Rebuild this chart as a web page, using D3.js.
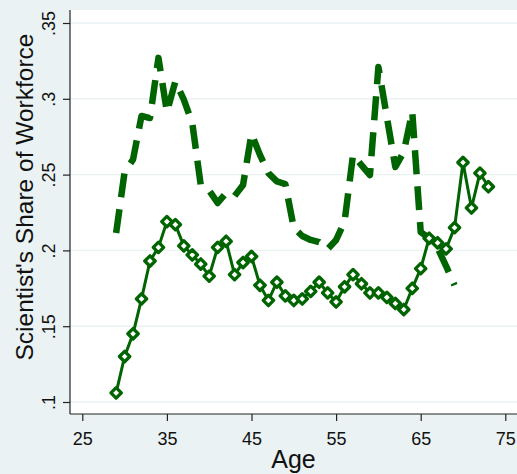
<!DOCTYPE html>
<meta charset="utf-8">
<script src="https://d3js.org/d3.v7.min.js"></script>
<style>
body { margin: 0; background: #eaf2f3; }
text { font-family: "Liberation Sans", Arial, sans-serif; fill: #111; }
</style>
<div id="my_dataviz"></div>
<script>

// data
var solidAge = [29,30,31,32,33,34,35,36,37,38,39,40,41,42,43,44,45,46,47,48,49,50,51,52,53,54,55,56,57,58,59,60,61,62,63,64,65,66,67,68,69,70,71,72,73];
var solidShare = [.106,.130,.145,.168,.193,.202,.219,.217,.203,.197,.191,.183,.202,.206,.184,.192,.196,.177,.167,.179,.170,.167,.168,.173,.179,.172,.166,.176,.184,.178,.172,.172,.169,.165,.161,.175,.188,.208,.205,.201,.215,.258,.228,.251,.242];

var dashAge = [29,30,31,32,33,34,35,36,37,38,39,40,41,42,43,44,45,46,47,48,49,50,51,52,53,54,55,56,57,58,59,60,61,62,63,64,65,66,67,68,69];
var dashShare = [.2115,.2517,.260,.2887,.2873,.3270,.2913,.3115,.2995,.2840,.2431,.2395,.2313,.2379,.2359,.2431,.2770,.2630,.2510,.2455,.2438,.2148,.2095,.2069,.2055,.2009,.2069,.2190,.2630,.2563,.2497,.3210,.2880,.2550,.2650,.2915,.2121,.2082,.2016,.1897,.1770];

var xTicks = [25,35,45,55,65,75];
var yTicks = [.1,.15,.2,.25,.3,.35];
var yTickLabels = [".1",".15",".2",".25",".3",".35"];

var width = 517, height = 474;
var plot = {left: 70, top: 10, right: 517, bottom: 414};
var green = "#006400";

var svg = d3.select("#my_dataviz")
  .append("svg")
    .attr("width", width)
    .attr("height", height);

svg.append("rect")
  .attr("width", width).attr("height", height)
  .attr("fill", "#eaf2f3");

svg.append("rect")
  .attr("x", plot.left).attr("y", plot.top)
  .attr("width", plot.right - plot.left)
  .attr("height", plot.bottom - plot.top)
  .attr("fill", "white");

var x = d3.scaleLinear().domain([25, 75]).range([82.3, 505.3]);
var y = d3.scaleLinear().domain([0.1, 0.35]).range([402, 23]);

// gridlines
svg.selectAll("myGrid")
  .data(yTicks)
  .enter()
  .append("line")
    .attr("x1", plot.left).attr("x2", plot.right)
    .attr("y1", function(d){ return y(d) })
    .attr("y2", function(d){ return y(d) })
    .attr("stroke", "#eaf2f3")
    .attr("stroke-width", 1.4);

// Y axis
var yAxis = svg.append("g")
  .attr("transform", "translate(" + plot.left + ",0)")
  .call(d3.axisLeft(y).tickValues(yTicks).tickSize(7).tickSizeOuter(0)
        .tickFormat(function(d, i){ return yTickLabels[i] }));
yAxis.select(".domain").attr("d", "M0," + plot.top + "V" + plot.bottom).attr("stroke", "#222");
yAxis.selectAll(".tick line").attr("stroke", "#222");
yAxis.selectAll(".tick text")
  .attr("x", 0).attr("y", 0).attr("dy", null)
  .attr("text-anchor", "middle")
  .attr("transform", "translate(-15,0) rotate(-90)")
  .style("font-size", "18px");

// X axis
var xAxis = svg.append("g")
  .attr("transform", "translate(0," + plot.bottom + ")")
  .call(d3.axisBottom(x).tickValues(xTicks).tickSize(7).tickSizeOuter(0));
xAxis.select(".domain").attr("d", "M" + plot.left + ",0H" + plot.right).attr("stroke", "#222");
xAxis.selectAll(".tick line").attr("stroke", "#222");
xAxis.selectAll(".tick text")
  .attr("y", 31).attr("dy", null)
  .style("font-size", "18px");
svg.selectAll(".tick text").attr("fill", "#111");
svg.selectAll(".domain, .tick line").attr("stroke-width", 1.2);

// axis titles
svg.append("text")
  .attr("x", (plot.left + plot.right) / 2)
  .attr("y", 468)
  .attr("text-anchor", "middle")
  .style("font-size", "25px")
  .text("Age");

svg.append("text")
  .attr("transform", "translate(33,197) rotate(-90)")
  .attr("text-anchor", "middle")
  .style("font-size", "24.5px")
  .text("Scientist's Share of Workforce");

var dashData = dashAge.map(function(a, i){ return {age: a, share: dashShare[i]} });
var solidData = solidAge.map(function(a, i){ return {age: a, share: solidShare[i]} });

var line = d3.line()
  .x(function(d){ return x(d.age) })
  .y(function(d){ return y(d.share) });

// dashed series
svg.append("path")
  .datum(dashData)
  .attr("d", line)
  .attr("fill", "none")
  .attr("stroke", green)
  .attr("stroke-width", 6.5)
  .attr("stroke-linejoin", "round")
  .attr("stroke-dasharray", "24,12");

// solid series with hollow diamonds
svg.append("path")
  .datum(solidData)
  .attr("d", line)
  .attr("fill", "none")
  .attr("stroke", green)
  .attr("stroke-width", 3)
  .attr("stroke-linejoin", "round");

var r = 5.2;
svg.selectAll("myDiamonds")
  .data(solidData)
  .enter()
  .append("path")
    .attr("d", "M0," + (-r) + "L" + r + ",0L0," + r + "L" + (-r) + ",0Z")
    .attr("transform", function(d){ return "translate(" + x(d.age) + "," + y(d.share) + ")" })
    .attr("fill", "white")
    .attr("stroke", green)
    .attr("stroke-width", 3.3)
    .attr("stroke-linejoin", "round");

</script>
